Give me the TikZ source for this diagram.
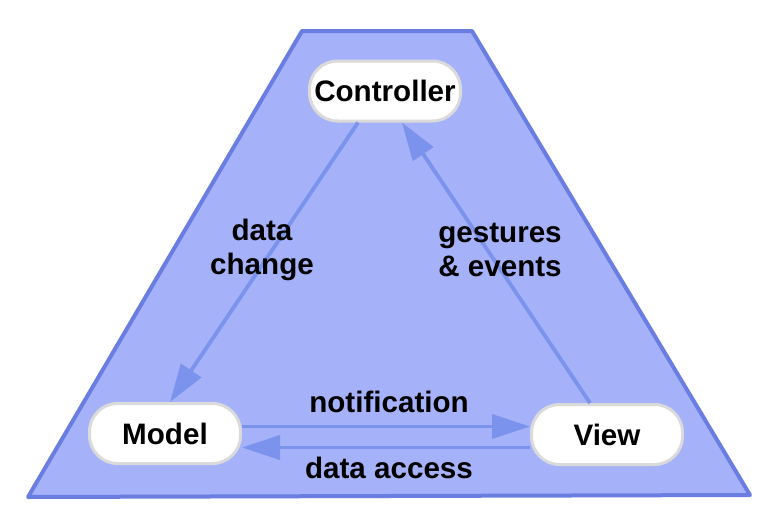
\documentclass[tikz,border=0pt]{standalone}
\usepackage{fontspec}
\setmainfont{Liberation Sans}
\usetikzlibrary{arrows.meta}
\definecolor{fillc}{HTML}{A5B1F9}
\definecolor{edgec}{HTML}{6A7DE0}
\definecolor{arrc}{HTML}{7B93EC}
\definecolor{boxedge}{HTML}{DADADA}
\begin{document}
\begin{tikzpicture}[x=1pt,y=-1pt,
  box/.style={draw=boxedge, line width=3pt, fill=white, rounded corners=28pt,
    minimum width=151pt, minimum height=60pt, inner sep=0pt,
    font=\fontsize{29.6}{34}\selectfont\bfseries},
  lbl/.style={font=\fontsize{29.6}{34}\selectfont\bfseries, align=center, inner sep=0pt},
  conn/.style={draw=arrc, line width=3.8pt, -{Triangle[length=38pt,width=24pt]}}]
\useasboundingbox (0,0) rectangle (774,530);
\draw[draw=edgec, fill=fillc, line width=4pt, line join=round]
  (302,31) -- (472,31) -- (750,495) -- (28,497) -- cycle;
\node[box] (ctrl) at (385,91) {Controller};
\node[box] (model) at (165,433.5) {Model};
\node[box] (view) at (607,434.5) {View};
\draw[conn] ([xshift=-27pt]ctrl.south) -- ([xshift=5pt]model.north);
\draw[conn] ([xshift=-17pt]view.north) -- ([xshift=17pt]ctrl.south);
\draw[conn] ([yshift=7pt]model.east) -- ([yshift=7pt]model.east -| view.west);
\draw[conn] ([yshift=-13pt]view.west) -- ([yshift=-13pt]view.west -| model.east);
\node[lbl] (dc) at (262,250) {data\\change};
\node[lbl] (ge) at (500,250) {gestures\\\& events};
\node[lbl] (nt) at (389,402) {notification};
\node[lbl] (da) at (389,468) {data access};
\end{tikzpicture}
\end{document}
